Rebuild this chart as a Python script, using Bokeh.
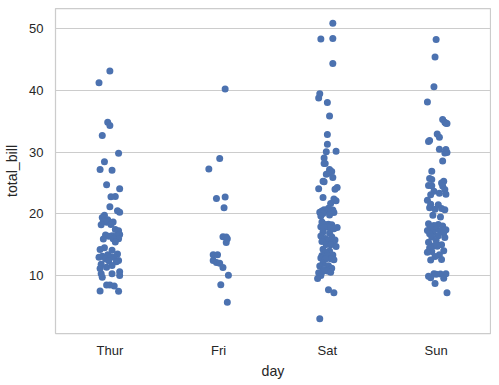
from bokeh.plotting import figure
from bokeh.models import Range1d, FixedTicker, ColumnDataSource
from bokeh.embed import file_html
from bokeh.resources import INLINE

days = ["Thur", "Fri", "Sat", "Sun"]

thur_bill = [43.11, 41.19, 34.83, 34.30, 32.68, 29.80, 28.44, 27.20, 27.05, 24.71,
             24.08, 22.82, 22.76, 21.16, 20.53, 20.27, 19.81, 19.44, 19.08, 18.78,
             18.71, 18.64, 18.28, 18.26, 17.47, 17.29, 16.66, 16.58, 16.47, 16.43,
             16.40, 16.00, 15.98, 15.95, 15.48, 14.52, 14.26, 14.15, 13.51, 13.42,
             13.16, 13.03, 13.00, 13.00, 12.74, 12.48, 12.43, 12.26, 11.87, 11.69,
             11.38, 11.17, 10.65, 10.34, 10.33, 10.07, 9.78, 8.52, 8.51, 8.35,
             7.56, 7.51]
thur_jitter = [0.00, -0.10, -0.02, 0.00, -0.07, 0.08, -0.05, -0.09, 0.02, -0.03,
               0.09, 0.05, 0.01, 0.00, 0.07, 0.09, -0.05, -0.07, -0.02, -0.06,
               0.03, -0.03, 0.01, -0.08, 0.05, 0.08, 0.09, -0.04, 0.02, 0.06,
               -0.01, 0.08, 0.03, -0.06, 0.05, -0.05, -0.09, 0.02, 0.07, -0.02,
               -0.07, 0.01, -0.10, 0.04, -0.04, 0.08, -0.01, 0.06, -0.08, 0.02,
               -0.03, -0.09, 0.09, -0.08, 0.02, 0.09, -0.07, 0.00, -0.03, 0.04,
               -0.09, 0.08]

fri_bill = [40.17, 28.97, 27.28, 22.75, 22.49, 21.01, 16.32, 16.27, 15.98, 15.38,
            13.42, 13.42, 12.46, 12.16, 12.03, 11.35, 10.09, 8.58, 5.75]
fri_jitter = [0.06, 0.01, -0.09, 0.06, -0.02, 0.05, 0.04, 0.07, 0.08, 0.07,
              -0.05, -0.01, -0.05, -0.02, 0.01, 0.04, 0.09, 0.02, 0.08]

sat_bill = [50.81, 48.33, 48.27, 44.30, 39.42, 38.73, 38.01, 35.83, 32.83, 31.27,
            30.14, 30.06, 29.03, 28.17, 28.15, 27.18, 26.86, 26.59, 26.41, 25.89,
            25.28, 25.21, 24.27, 24.06, 24.01, 22.67, 22.42, 22.12, 21.70, 20.92,
            20.69, 20.65, 20.49, 20.45, 20.29, 20.29, 20.23, 20.08, 19.82, 19.65,
            18.69, 18.35, 18.29, 18.24, 17.92, 17.92, 17.82, 17.81, 17.78, 17.59,
            17.07, 16.93, 16.45, 16.31, 16.04, 15.81, 15.77, 15.69, 15.53, 15.36,
            15.06, 15.01, 14.73, 14.31, 14.00, 13.81, 13.37, 13.28, 13.27, 12.90,
            12.76, 12.69, 12.60, 12.02, 11.61, 11.59, 11.24, 11.02, 10.77, 10.63,
            10.59, 10.51, 10.07, 9.55, 7.74, 7.25, 3.07]
sat_jitter = [0.05, 0.05, -0.06, 0.05, -0.07, -0.08, 0.00, 0.02, 0.00, 0.00,
              0.08, -0.01, -0.03, -0.03, -0.02, 0.02, 0.04, 0.01, -0.01, 0.05,
              -0.04, -0.03, 0.09, -0.08, 0.07, -0.04, 0.06, 0.08, 0.03, 0.01,
              -0.03, 0.05, -0.05, -0.01, 0.03, -0.07, 0.06, -0.04, 0.02, -0.06,
              -0.05, 0.01, -0.02, 0.04, -0.06, 0.00, 0.03, 0.09, -0.03, 0.06,
              -0.04, 0.02, -0.06, 0.04, -0.02, 0.07, -0.03, 0.01, -0.05, 0.05,
              -0.01, 0.03, 0.08, -0.04, 0.02, -0.02, 0.05, -0.05, 0.00, -0.06,
              0.03, -0.02, 0.06, -0.04, 0.01, -0.07, 0.04, -0.03, 0.00, -0.05,
              0.03, -0.08, -0.06, -0.09, 0.01, 0.06, -0.07]

sun_bill = [48.17, 45.35, 40.55, 38.07, 35.26, 34.81, 34.65, 34.63, 32.90, 32.40,
            31.85, 31.71, 30.46, 30.40, 29.93, 29.85, 28.55, 26.88, 25.71, 25.56,
            25.29, 25.00, 24.59, 24.55, 24.52, 23.95, 23.68, 23.33, 23.17, 23.10,
            22.23, 21.58, 21.50, 21.01, 20.90, 20.76, 20.69, 19.77, 19.49, 18.43,
            18.29, 18.15, 18.04, 17.89, 17.51, 17.46, 17.31, 17.26, 16.99, 16.97,
            16.82, 16.49, 16.29, 16.21, 15.69, 15.42, 15.04, 14.83, 14.78, 14.48,
            14.07, 13.94, 13.81, 13.39, 13.13, 12.66, 12.54, 10.34, 10.33, 10.29,
            10.27, 9.94, 9.68, 9.60, 8.77, 7.25]
sun_jitter = [0.00, -0.01, -0.02, -0.08, 0.06, 0.08, 0.09, 0.10, 0.01, 0.03,
              -0.06, -0.07, 0.03, 0.09, 0.10, 0.08, 0.06, -0.04, -0.06, -0.04,
              0.07, 0.05, -0.07, -0.04, 0.06, 0.08, -0.02, 0.03, 0.09, -0.05,
              -0.08, -0.05, 0.02, -0.06, 0.05, -0.01, 0.08, -0.03, 0.04, -0.07,
              0.02, -0.02, 0.06, -0.05, 0.00, 0.09, -0.08, 0.04, -0.03, 0.07,
              -0.06, 0.02, -0.04, 0.08, 0.00, -0.07, 0.05, -0.03, 0.01, -0.06,
              0.07, -0.04, -0.08, 0.03, -0.01, 0.05, -0.05, 0.09, -0.02, 0.04,
              0.00, -0.07, -0.05, 0.07, -0.01, 0.10]

y_ticks = [10, 20, 30, 40, 50]

series = [thur_bill, fri_bill, sat_bill, sun_bill]
jitters = [thur_jitter, fri_jitter, sat_jitter, sun_jitter]
xs, ys = [], []
for i, (vals, jit) in enumerate(zip(series, jitters)):
    for v, j in zip(vals, jit):
        xs.append(i + j)
        ys.append(v)

span = max(ys) - min(ys)
y_lo = min(ys) - 0.05 * span
y_hi = max(ys) + 0.05 * span

source = ColumnDataSource(dict(x=xs, y=ys))

p = figure(frame_width=435, frame_height=325, output_backend="svg", toolbar_location=None,
           x_range=Range1d(-0.5, len(days) - 0.5), y_range=Range1d(y_lo, y_hi),
           min_border_left=55, min_border_right=1, min_border_top=8, min_border_bottom=0)

p.scatter("x", "y", source=source, size=7, fill_color="#4c72b0", line_color=None)

FONT = "Liberation Sans"
TXT = "#262626"

p.background_fill_color = "white"
p.border_fill_color = "white"
p.outline_line_color = "#cccccc"
p.outline_line_width = 1.25

p.xgrid.grid_line_color = None
p.ygrid.grid_line_color = "#cccccc"
p.ygrid.grid_line_width = 1

p.xaxis.ticker = FixedTicker(ticks=list(range(len(days))))
p.xaxis.major_label_overrides = {i: d for i, d in enumerate(days)}
p.yaxis.ticker = FixedTicker(ticks=y_ticks)

p.xaxis.axis_label = "day"
p.yaxis.axis_label = "total_bill"

for ax in (p.xaxis, p.yaxis):
    ax.axis_line_color = None
    ax.major_tick_line_color = None
    ax.minor_tick_line_color = None
    ax.major_tick_out = 0
    ax.major_tick_in = 0
    ax.minor_tick_out = 0
    ax.minor_tick_in = 0
    ax.major_label_text_font = FONT
    ax.major_label_text_font_size = "13px"
    ax.major_label_text_color = TXT
    ax.axis_label_text_font = FONT
    ax.axis_label_text_font_size = "14.2px"
    ax.axis_label_text_font_style = "normal"
    ax.axis_label_text_color = TXT

p.xaxis.major_label_standoff = 9
p.xaxis.axis_label_standoff = 2
p.yaxis.major_label_standoff = 12
p.yaxis.axis_label_standoff = 6

open("out.html", "w").write(file_html(p, INLINE))
